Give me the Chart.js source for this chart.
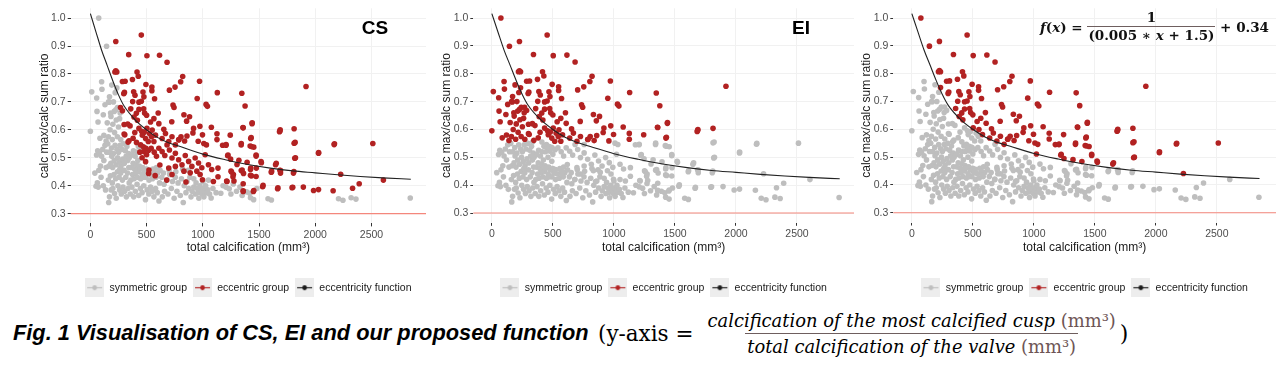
<!DOCTYPE html>
<html>
<head>
<meta charset="utf-8">
<script src="https://cdn.jsdelivr.net/npm/chart.js@4.4.1/dist/chart.umd.min.js"></script>
<style>
  html, body { margin: 0; padding: 0; background: #fff; }
  #page { position: relative; width: 1280px; height: 368px; overflow: hidden; }
  canvas.panel { position: absolute; top: 0; }
  .frac { display: inline-flex; flex-direction: column; align-items: center; }
  .frac > span + span { border-top: 1px solid #6e5e5e; }
  #fx { position: absolute; left: 1040px; top: 9px; display: flex; align-items: center;
        font: bold 13.5px "DejaVu Serif", serif; color: #111; white-space: nowrap; }
  #fx .frac > span { padding: 0 1px; line-height: 17px; }
  #caption { position: absolute; left: 13px; top: 320px; font: italic bold 21.8px "Liberation Sans", Arial, sans-serif;
             color: #000; white-space: nowrap; }
  #yaxis { position: absolute; left: 598px; top: 308px; display: flex; align-items: center;
           font-family: "DejaVu Serif", serif; color: #000; white-space: nowrap; }
  #yaxis .lead { font-size: 21.5px; margin-right: 12px; }
  #yaxis .frac > span { font-style: italic; font-size: 17.9px; line-height: 25px; padding: 0 2px; }
  #yaxis .u { font-style: normal; color: #6e5555; }
  #yaxis .close { font-size: 22px; margin-left: 2px; }
</style>
</head>
<body>
<div id="page">
  <canvas id="cs" class="panel"></canvas>
  <canvas id="ei" class="panel"></canvas>
  <canvas id="fn" class="panel"></canvas>

  <div id="fx">
    <span><i>f</i>(<i>x</i>) =&nbsp;</span>
    <span class="frac"><span>1</span><span>(0.005 ∗ <i>x</i> + 1.5)</span></span>
    <span>&nbsp;+ 0.34</span>
  </div>

  <div id="caption">Fig. 1 Visualisation of CS, EI and our proposed function</div>
  <div id="yaxis">
    <span class="lead">(y-axis =</span>
    <span class="frac">
      <span>calcification of the most calcified cusp <span class="u">(mm³)</span></span>
      <span>total calcification of the valve <span class="u">(mm³)</span></span>
    </span>
    <span class="close">)</span>
  </div>
</div>

<script>
// axis ticks
const xTicks = [0, 500, 1000, 1500, 2000, 2500];
const yTicks = [0.3, 0.4, 0.5, 0.6, 0.7, 0.8, 0.9, 1.0];
const refLevel = 0.3;     // red reference line
const eiCut = 0.557;      // EI split

const legendNames = ["symmetric group", "eccentric group", "eccentricity function"];
const seriesColors = ["#bebebe", "#b22222", "#1a1a1a"];

// eccentricity function as drawn
const curveX = [0, 50, 100, 150, 200, 250, 300, 400, 500, 600, 700, 800, 1000, 1200, 1400, 1600, 1800, 2000, 2200, 2400, 2600, 2850];
const curveY = [1.016, 0.95, 0.885, 0.83, 0.775, 0.725, 0.685, 0.635, 0.6, 0.572, 0.553, 0.54, 0.513, 0.493, 0.476, 0.463, 0.453, 0.446, 0.439, 0.433, 0.428, 0.423];

// [total calcification, calc max / calc sum] — grey in the CS panel
const csSymmetric = [
  [0,0.595],[74,1.0],[144,0.899],[100,0.772],[12,0.736],[56,0.714],[59,0.666],[68,0.628],[168,0.699],[103,0.745],
  [170,0.718],[115,0.654],[162,0.70],[212,0.666],[227,0.672],[241,0.68],[265,0.66],[183,0.648],[221,0.733],[190,0.76],
  [130,0.69],[150,0.625],[200,0.62],[230,0.635],[175,0.60],[215,0.59],[250,0.61],[120,0.58],[160,0.575],[240,0.575],
  [270,0.565],[195,0.565],[140,0.56],[85,0.57],[260,0.64],[205,0.70],[235,0.75],[180,0.66],
  [50,0.398],[62,0.41],[40,0.445],[75,0.455],[90,0.47],[55,0.51],[80,0.518],[65,0.525],[100,0.505],[120,0.49],
  [110,0.53],[130,0.545],[140,0.465],[95,0.43],[115,0.40],[135,0.385],[70,0.395],[145,0.52],
  [163,0.34],[170,0.36],[185,0.385],[200,0.39],[215,0.372],[230,0.355],[245,0.4],[260,0.385],[275,0.37],[290,0.395],
  [305,0.38],[320,0.36],[335,0.39],[345,0.41],[160,0.42],[178,0.435],[195,0.41],[210,0.44],[225,0.425],[240,0.45],
  [255,0.43],[270,0.445],[285,0.42],[300,0.455],[315,0.43],[330,0.445],[342,0.465],[165,0.47],[182,0.48],[198,0.465],
  [212,0.49],[228,0.475],[243,0.5],[258,0.485],[272,0.47],[288,0.495],[302,0.48],[318,0.505],[332,0.49],[346,0.5],
  [170,0.52],[188,0.535],[205,0.515],[220,0.545],[236,0.53],[250,0.52],[265,0.545],[280,0.53],[295,0.55],[310,0.525],
  [325,0.54],[340,0.515],[155,0.55],[190,0.505],[262,0.46],
  [355,0.37],[370,0.395],[385,0.36],[400,0.38],[415,0.405],[430,0.365],[445,0.39],[460,0.375],[475,0.4],[490,0.35],
  [505,0.385],[520,0.37],[535,0.395],[550,0.38],[565,0.36],[580,0.39],[595,0.375],[360,0.42],[375,0.44],[388,0.425],
  [402,0.445],[418,0.43],[432,0.45],[447,0.425],[462,0.44],[478,0.455],[492,0.43],[508,0.445],[522,0.42],[538,0.44],
  [553,0.425],[568,0.45],[585,0.43],[598,0.445],[365,0.465],[380,0.48],[393,0.46],[408,0.475],[422,0.49],[436,0.47],
  [466,0.465],[557,0.46],[588,0.465],[368,0.51],[383,0.525],[398,0.505],[412,0.52],[427,0.54],[456,0.53],[486,0.535],
  [410,0.455],[440,0.46],[470,0.43],[500,0.46],
  [610,0.345],[640,0.36],[660,0.38],[690,0.37],[720,0.39],[745,0.355],[770,0.38],[800,0.365],[826,0.34],[850,0.375],
  [875,0.39],[895,0.36],[615,0.41],[635,0.43],[655,0.405],[680,0.42],[705,0.44],[730,0.415],[755,0.43],[780,0.41],
  [810,0.425],[835,0.4],[860,0.415],[885,0.43],[620,0.455],[650,0.445],[700,0.455],[760,0.45],[820,0.46],[870,0.455],
  [905,0.38],[920,0.395],[935,0.37],[950,0.39],[960,0.375],[975,0.4],[985,0.385],[995,0.37],[1005,0.39],[1015,0.38],
  [1025,0.4],[1035,0.375],[1045,0.385],[1060,0.37],[1074,0.356],[1090,0.39],[940,0.41],[1000,0.415],[1050,0.42],[920,0.425],
  [965,0.355],[1010,0.36],
  [1118,0.375],[1160,0.373],[1207,0.394],[1235,0.389],[1271,0.406],[1300,0.38],[1330,0.395],[1389,0.378],[1417,0.373],[1424,0.357],
  [1452,0.35],[1180,0.4],[1250,0.37],[1350,0.365],[1480,0.39],
  [1580,0.353],[1610,0.349],[2207,0.353],[2246,0.348],[2319,0.357],[2362,0.352],[2845,0.356]
];

// red in the CS panel
const csEccentric = [
  [226,0.916],[453,0.939],[341,0.869],[503,0.865],[615,0.867],[682,0.842],[226,0.811],[235,0.807],[218,0.807],[415,0.807],
  [426,0.792],[821,0.791],[285,0.773],[309,0.774],[374,0.78],[494,0.762],[547,0.753],[547,0.74],[753,0.753],[703,0.742],
  [803,0.772],[971,0.774],[303,0.734],[297,0.729],[385,0.736],[397,0.724],[468,0.735],[476,0.718],[453,0.702],[571,0.711],
  [376,0.701],[950,0.712],[1129,0.733],[1347,0.731],[1029,0.691],[1041,0.684],[735,0.689],[744,0.68],[1376,0.685],[1918,0.755],
  [268,0.68],[285,0.668],[432,0.673],[474,0.675],[482,0.66],[409,0.659],[500,0.652],[603,0.66],[832,0.654],[882,0.647],
  [856,0.631],[724,0.629],[974,0.613],[1076,0.609],[1359,0.607],[1438,0.622],[1688,0.6],[1812,0.604],[1682,0.593],[918,0.605],
  [912,0.589],[653,0.602],[353,0.614],[300,0.619],[332,0.621],[306,0.582],[335,0.556],[997,0.582],[1126,0.586],[1126,0.565],
  [806,0.575],[788,0.565],[859,0.578],[838,0.56],[959,0.559],[1009,0.551],[1032,0.546],[1176,0.545],[1206,0.545],[1341,0.546],
  [1426,0.569],[1432,0.54],[1453,0.538],[1812,0.552],[2168,0.547],[2512,0.551],[2029,0.516],[1818,0.498],[1221,0.507],[1321,0.491],
  [1474,0.506],[1394,0.484],[1521,0.482],[1647,0.475],[1691,0.454],[1691,0.445],[1806,0.445],[1609,0.448],[1476,0.463],[1426,0.463],
  [1432,0.435],[1350,0.456],[1362,0.444],[1256,0.449],[1268,0.432],[1135,0.463],[1135,0.432],[1215,0.415],[1359,0.407],[1359,0.379],
  [1450,0.379],[1532,0.396],[1665,0.389],[1794,0.393],[1894,0.395],[1985,0.383],[2029,0.386],[2159,0.382],[2226,0.441],[2332,0.391],
  [2391,0.407],[2606,0.42],[1094,0.415],[997,0.421],[850,0.413],[726,0.44],[679,0.42],[576,0.436],[518,0.444],[618,0.474],
  [432,0.605],[456,0.595],[479,0.591],[503,0.605],[526,0.587],[550,0.599],[462,0.581],[491,0.569],[515,0.558],[544,0.575],
  [565,0.558],[579,0.581],[447,0.546],[471,0.539],[494,0.534],[518,0.527],[476,0.522],[500,0.511],[541,0.534],[568,0.52],
  [588,0.505],[609,0.534],[638,0.522],[662,0.508],[682,0.546],[703,0.528],[726,0.499],[756,0.516],[785,0.493],[815,0.475],
  [844,0.508],[874,0.487],[903,0.469],[932,0.499],[962,0.481],[991,0.464],[1021,0.511],[1050,0.475],[1079,0.458],[947,0.452],
  [976,0.44],[888,0.446],[832,0.452],[756,0.469],[697,0.463],[638,0.569],[668,0.587],[697,0.558],[726,0.575],[756,0.546],
  [785,0.564],[535,0.628],[565,0.64],[609,0.622],[418,0.634],[388,0.646],[432,0.699],[359,0.675],
  [300,0.585],[344,0.561],[491,0.486],[521,0.456],[380,0.57],[410,0.555],[440,0.52],[460,0.5],[395,0.59],
  [1207,0.547],[1342,0.551],[1224,0.51],[1304,0.476],[1247,0.495],[1251,0.452],[1272,0.44],[1212,0.417],[1277,0.417],[1342,0.454],
  [1424,0.458],[1424,0.437],[1518,0.486],[1612,0.452],[1653,0.48],[1686,0.455],[1810,0.451],[1474,0.51],[1474,0.433],[1421,0.542],
  [1430,0.572],[1439,0.625],[1357,0.608],[1244,0.581],[1536,0.401],[1668,0.392],[1800,0.394],[1453,0.383],[1359,0.382],[2171,0.55],
  [2030,0.519],[1824,0.5],[1821,0.555],[1686,0.596]
];

// layout of the three panels (page pixels)
const panels = [
  { id: "cs", mode: "cs", tag: "CS", left: 0,   width: 430, plotLeft: 70.7,  plotRight: 429,  top: 4.8, bottom: 222.9, xMin: -175, xMax: 2985, titleX: 45,  tagX: 375, tagY: 28.5 },
  { id: "ei", mode: "ei", tag: "EI", left: 430, width: 428, plotLeft: 473.3, plotRight: 856.7, top: 2,   bottom: 222.3, xMin: -152, xMax: 2967, titleX: 447, tagX: 371, tagY: 28.3 },
  { id: "fn", mode: "fn", tag: "",   left: 850, width: 430, plotLeft: 893.3, plotRight: 1280, top: 1.3, bottom: 222,   xMin: -152, xMax: 2985, titleX: 867, tagX: 0,   tagY: 0 }
];
const canvasH = 303;
const legendTop = 276;

Chart.defaults.font.family = "'Liberation Sans', Arial, sans-serif";

function curveAt(x) {
  for (let i = 1; i < curveX.length; i++) {
    if (x <= curveX[i]) {
      const t = (x - curveX[i - 1]) / (curveX[i] - curveX[i - 1]);
      return curveY[i - 1] + t * (curveY[i] - curveY[i - 1]);
    }
  }
  return curveY[curveY.length - 1];
}

function split(mode) {
  if (mode === "cs") return [csSymmetric, csEccentric];
  const all = csSymmetric.concat(csEccentric);
  const isEcc = mode === "ei" ? p => p[1] > eiCut : p => p[1] > curveAt(p[0]);
  return [all.filter(p => !isEcc(p)), all.filter(isEcc)];
}

// ggplot-like legend keys: grey square, line and dot
function legendKey(color) {
  const c = document.createElement("canvas");
  c.width = 19; c.height = 19;
  const g = c.getContext("2d");
  g.fillStyle = "#ededed";
  g.fillRect(0, 0, 19, 19);
  g.strokeStyle = color; g.lineWidth = 1.1;
  g.beginPath(); g.moveTo(2, 9.5); g.lineTo(17, 9.5); g.stroke();
  g.fillStyle = color;
  g.beginPath(); g.arc(9.5, 9.5, 2.4, 0, Math.PI * 2); g.fill();
  return c;
}
const keyImages = seriesColors.map(legendKey);

const extras = {
  id: "extras",
  beforeDatasetsDraw(chart) {
    const { ctx, chartArea, scales } = chart;
    const y = scales.y.getPixelForValue(refLevel);
    ctx.save();
    ctx.strokeStyle = "#f4877c";
    ctx.lineWidth = 1.1;
    ctx.beginPath(); ctx.moveTo(chartArea.left, y); ctx.lineTo(chartArea.right, y); ctx.stroke();
    ctx.restore();
  },
  afterDatasetsDraw(chart, args, opts) {
    if (!opts.tag) return;
    const ctx = chart.ctx;
    ctx.save();
    ctx.font = "bold 19px 'Liberation Sans', Arial, sans-serif";
    ctx.fillStyle = "#000";
    ctx.textAlign = "center";
    ctx.textBaseline = "middle";
    ctx.fillText(opts.tag, opts.x, opts.y);
    ctx.restore();
  }
};

panels.forEach(p => {
  const cv = document.getElementById(p.id);
  cv.width = p.width; cv.height = canvasH;
  cv.style.left = p.left + "px";
  cv.style.width = p.width + "px"; cv.style.height = canvasH + "px";

  const padLeft = p.titleX - p.left - 4 - 7.2;
  const yAxisW = p.plotLeft - p.left - padLeft;
  const xAxisH = legendTop - p.bottom;
  const [sym, ecc] = split(p.mode);

  new Chart(cv.getContext("2d"), {
    type: "scatter",
    data: {
      datasets: [
        {
          label: legendNames[2],
          data: curveX.map((x, i) => ({ x, y: curveY[i] })),
          showLine: true, pointRadius: 0, borderColor: "#222", borderWidth: 1.1,
          cubicInterpolationMode: "monotone", fill: false
        },
        {
          label: legendNames[1],
          data: ecc.map(d => ({ x: d[0], y: d[1] })),
          pointRadius: 2.8, pointBorderWidth: 0, backgroundColor: seriesColors[1]
        },
        {
          label: legendNames[0],
          data: sym.map(d => ({ x: d[0], y: d[1] })),
          pointRadius: 2.8, pointBorderWidth: 0, backgroundColor: seriesColors[0]
        }
      ]
    },
    options: {
      responsive: false,
      animation: false,
      events: [],
      layout: { padding: { left: padLeft, right: p.left + p.width - p.plotRight, top: p.top, bottom: 0 } },
      scales: {
        x: {
          type: "linear", min: p.xMin, max: p.xMax,
          afterBuildTicks: s => { s.ticks = xTicks.map(v => ({ value: v })); },
          afterFit: s => { s.height = xAxisH; },
          ticks: { autoSkip: false, maxRotation: 0, padding: 2, color: "#4d4d4d", font: { size: 10.5 },
                   callback: v => String(v) },
          grid: { color: "#f1f1f1", tickColor: "#333", tickLength: 3 },
          border: { display: false },
          title: { display: true, text: "total calcification (mm³)", color: "#1a1a1a",
                   font: { size: 12 }, padding: { top: 4, bottom: 21.3 } }
        },
        y: {
          type: "linear", min: 0.265, max: 1.035,
          afterBuildTicks: s => { s.ticks = yTicks.map(v => ({ value: v })); },
          afterFit: s => { s.width = yAxisW; },
          ticks: { autoSkip: false, padding: 2, color: "#4d4d4d", font: { size: 10.5 },
                   callback: v => Number(v).toFixed(1) },
          grid: { color: "#f1f1f1", tickColor: "#333", tickLength: 3 },
          border: { display: false },
          title: { display: true, text: "calc max/calc sum ratio", color: "#1a1a1a",
                   font: { size: 12 }, padding: { top: 4, bottom: 4 } }
        }
      },
      plugins: {
        tooltip: { enabled: false },
        extras: { tag: p.tag, x: p.tagX, y: p.tagY },
        legend: {
          position: "bottom",
          fullSize: false,
          labels: {
            usePointStyle: true, pointStyleWidth: 19, padding: 6,
            color: "#1a1a1a", font: { size: 10.5 },
            generateLabels: () => legendNames.map((text, i) => ({
              text, pointStyle: keyImages[i], fillStyle: seriesColors[i], strokeStyle: seriesColors[i],
              lineWidth: 0, hidden: false, fontColor: "#1a1a1a", datasetIndex: 2 - i
            }))
          }
        }
      }
    },
    plugins: [extras]
  });
});
</script>
</body>
</html>
